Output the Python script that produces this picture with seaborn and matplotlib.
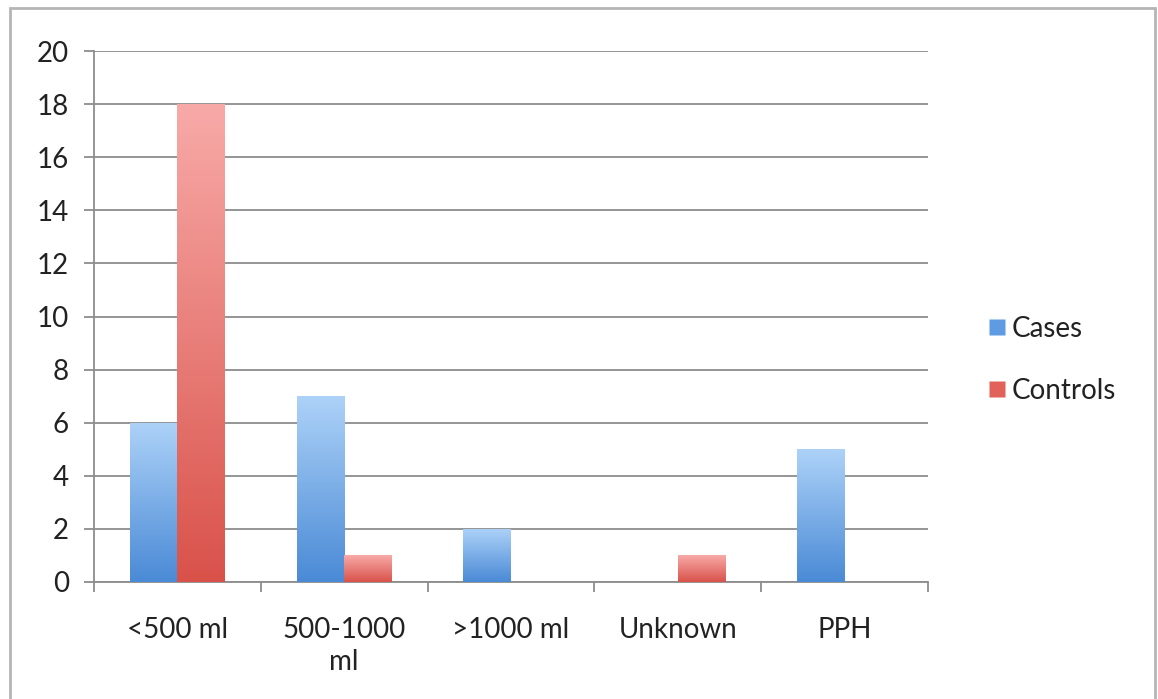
import numpy as np
import pandas as pd
import matplotlib
matplotlib.use("Agg")
import matplotlib.pyplot as plt
import matplotlib.colors as mcolors
from matplotlib.patches import Rectangle
from matplotlib.lines import Line2D
import seaborn as sns

categories = ["<500 ml", "500-1000\nml", ">1000 ml", "Unknown", "PPH"]
cases = [6, 7, 2, 0, 5]
controls = [18, 1, 0, 1, 0]
series_names = ["Cases", "Controls"]
y_ticks = [0, 2, 4, 6, 8, 10, 12, 14, 16, 18, 20]

df = pd.DataFrame({
    "category": categories * 2,
    "series": [series_names[0]] * len(categories) + [series_names[1]] * len(categories),
    "value": cases + controls,
})

sns.set_style("white")
plt.rcParams["font.family"] = ["Lato", "DejaVu Sans"]

fig = plt.figure(figsize=(11.58, 6.99), dpi=100)
ax = fig.add_axes([94 / 1158, 1 - 582 / 699, (928 - 94) / 1158, (582 - 51) / 699])

base_colors = {"Cases": "#5f9be3", "Controls": "#e0625a"}
sns.barplot(data=df, x="category", y="value", hue="series", order=categories,
            hue_order=series_names, palette=base_colors, width=0.57,
            saturation=1, ax=ax, legend=False, zorder=3)

grad = {
    "Cases": ("#add2f8", "#4a8ad6"),
    "Controls": ("#f8aaa8", "#d9524a"),
}
for container, name in zip(ax.containers, series_names):
    top_c, bot_c = grad[name]
    cmap = mcolors.LinearSegmentedColormap.from_list(name, [bot_c, top_c])
    for bar in container:
        h = bar.get_height()
        if h <= 0:
            bar.set_visible(False)
            continue
        x0 = bar.get_x()
        w = bar.get_width()
        g = np.linspace(0, 1, 256).reshape(-1, 1)
        im = ax.imshow(g, cmap=cmap, origin="lower", aspect="auto",
                       extent=[x0, x0 + w, 0, h], zorder=4)
        im.set_clip_path(bar)
        bar.set_facecolor("none")
        bar.set_edgecolor("none")

ax.set_xlim(-0.5, len(categories) - 0.5)
ax.set_ylim(0, 20)
ax.set_yticks(y_ticks)
ax.yaxis.grid(True, color="#8c8c8c", linewidth=1.3, zorder=0)
ax.set_axisbelow(True)
ax.set_xlabel("")
ax.set_ylabel("")

for side in ["top", "right"]:
    ax.spines[side].set_visible(False)
for side in ["left", "bottom"]:
    ax.spines[side].set_color("#8c8c8c")
    ax.spines[side].set_linewidth(1.3)

ax.tick_params(axis="y", which="major", length=7, width=1.3, color="#8c8c8c",
               labelsize=20, labelcolor="#222222", pad=11, left=True)
ax.set_xticks(range(len(categories)))
ax.set_xticklabels(categories, linespacing=1.3)
ax.tick_params(axis="x", which="major", length=0, labelsize=20,
               labelcolor="#222222", pad=25)
ax.set_xticks(np.arange(-0.5, len(categories), 1.0), minor=True)
ax.tick_params(axis="x", which="minor", length=7, width=1.3, color="#8c8c8c",
               bottom=True, direction="out")

handles = [Line2D([0], [0], marker="s", linestyle="none", markersize=11,
                  markerfacecolor=base_colors[n], markeredgecolor="none")
           for n in series_names]
fig.legend(handles, series_names, loc="center left",
           bbox_to_anchor=(960 / 1158, 1 - 360 / 699), frameon=False,
           fontsize=20, labelspacing=1.3, handletextpad=0.05,
           handlelength=0.9, labelcolor="#222222")

fig.patches.append(Rectangle((10 / 1158, -0.02), (1155 - 10) / 1158, 1.02 - 8 / 699,
                             transform=fig.transFigure, fill=False,
                             edgecolor="#b5b5b5", linewidth=2.0))

fig.savefig("out.png", dpi=100)
